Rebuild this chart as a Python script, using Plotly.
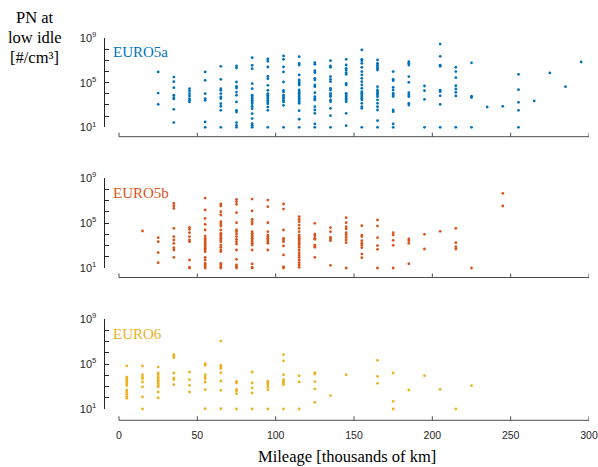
import plotly.graph_objects as go

# Particle number at low idle, grouped by mileage bin (thousands of km).
# Values are log10(PN [#/cm3]) for each vehicle in the bin.
euro5a_log_pn = {
    25: [5.96, 4.07, 3.06],
    35: [5.5, 5.09, 4.55, 3.87, 3.66, 3.54, 2.61, 1.42],
    45: [4.46, 4.25, 4.01, 3.81, 3.57, 3.42, 3.27],
    55: [5.96, 5.21, 4.01, 3.57, 3.42, 1.48, 1.0],
    65: [6.46, 5.3, 4.46, 4.31, 4.01, 3.72, 3.57, 3.12, 2.88, 2.52, 1.0],
    75: [6.49, 6.31, 5.06, 4.67, 4.52, 4.16, 3.87, 3.27, 2.52, 2.37, 1.42, 1.18, 1.0],
    85: [7.24, 6.55, 6.25, 4.91, 4.46, 3.87, 3.72, 3.57, 3.42, 3.27, 3.12, 2.88, 2.67,
         2.22, 1.78, 1.33, 1.18, 1.0],
    95: [7.12, 6.91, 6.4, 5.57, 5.36, 4.76, 4.31, 4.01, 3.87, 3.72, 3.57, 3.42, 3.27,
         3.12, 2.82, 2.52, 1.0],
    105: [7.39, 7.09, 6.4, 5.96, 5.06, 4.31, 4.16, 3.87, 3.72, 3.57, 3.42, 3.27, 2.97, 1.0],
    115: [7.33, 6.73, 6.58, 5.69, 5.24, 5.09, 4.94, 4.79, 4.34, 4.19, 4.04, 3.9, 3.75,
          3.6, 3.45, 3.3, 3.15, 2.49, 1.72, 1.0],
    125: [6.79, 6.64, 6.07, 5.9, 5.39, 5.24, 4.79, 4.64, 4.1, 3.75, 3.6, 3.45, 2.85,
          2.55, 2.25, 1.3, 1.0],
    135: [6.97, 6.49, 6.37, 5.54, 5.3, 5.09, 4.49, 4.34, 4.04, 3.9, 3.75, 3.45, 3.3,
          2.7, 2.04, 1.0],
    145: [7.09, 6.58, 6.28, 6.13, 5.9, 5.75, 4.94, 4.79, 4.04, 3.9, 3.75, 3.6, 3.45,
          3.3, 2.25, 1.15],
    155: [7.93, 7.09, 6.97, 6.73, 6.37, 5.99, 5.69, 5.39, 5.09, 4.79, 4.49, 4.19, 4.04,
          3.9, 3.75, 3.6, 3.45, 3.15, 2.85, 2.7, 1.0],
    165: [7.03, 6.73, 6.58, 6.43, 6.28, 6.13, 4.64, 4.34, 4.19, 4.04, 3.9, 3.75, 3.45,
          3.15, 2.85, 2.55, 1.6, 1.0],
    175: [5.99, 5.3, 5.18, 4.58, 4.34, 4.04, 3.9, 3.75, 2.55, 2.4, 1.3, 1.0],
    185: [6.88, 6.73, 6.58, 5.54, 5.03, 4.1, 3.9, 3.75, 3.15, 3.0],
    195: [4.7, 4.28, 3.51, 1.0],
    205: [8.46, 7.36, 6.56, 6.47, 4.32, 4.19, 3.82, 3.05, 1.0],
    215: [6.37, 5.99, 5.45, 4.73, 4.43, 4.13, 3.81, 1.0],
    225: [6.78, 3.78, 3.66, 1.0],
    235: [2.82],
    245: [2.88],
    255: [5.75, 4.37, 3.24, 2.52, 1.0],
    265: [3.36],
    275: [5.87],
    285: [4.64],
    295: [6.85],
}

euro5b_log_pn = {
    15: [4.29],
    25: [3.7, 3.34, 2.36, 1.47],
    35: [6.75, 6.51, 6.3, 4.53, 3.79, 3.49, 3.19, 2.81, 2.6, 1.95],
    45: [4.61, 4.44, 4.14, 3.79, 3.49, 3.34, 1.71, 1.06, 1.0],
    55: [7.22, 6.16, 5.41, 4.88, 4.38, 3.84, 3.64, 3.49, 3.34, 3.19, 3.04, 2.9, 2.75,
         2.6, 2.45, 1.95, 1.71, 1.41, 1.27, 1.12, 1.0],
    65: [6.69, 6.51, 6.01, 5.71, 5.12, 4.91, 4.73, 4.38, 4.08, 3.93, 3.79, 3.64, 3.49,
         3.34, 3.04, 2.84, 2.6, 2.45, 1.41, 1.27, 1.12, 1.0],
    75: [7.1, 6.9, 6.66, 5.92, 5.03, 4.38, 4.23, 4.02, 3.79, 3.55, 3.34, 3.13, 2.6,
         1.77, 1.27, 1.12, 1.0],
    85: [7.13, 6.07, 5.33, 5.12, 4.91, 4.23, 4.08, 3.93, 3.79, 3.64, 3.49, 3.34, 3.19,
         3.04, 2.6, 1.36, 1.06, 1.0],
    95: [7.04, 6.45, 5.03, 4.23, 3.93, 3.79, 3.64, 3.49, 3.34, 3.19, 2.6],
    105: [6.69, 6.24, 4.38, 3.64, 3.49, 3.34, 2.96, 2.16, 1.12, 1.0],
    115: [5.56, 5.33, 5.12, 4.82, 4.53, 4.23, 3.93, 3.79, 3.64, 3.49, 3.34, 3.19, 3.04,
          2.84, 2.6, 2.36, 2.16, 1.95, 1.71, 1.47, 1.27, 1.06],
    125: [4.97, 4.02, 3.87, 3.64, 3.55, 3.04, 2.99, 2.84, 1.95],
    135: [4.59, 4.23, 3.73, 3.58, 3.43, 1.24],
    145: [5.47, 5.03, 4.67, 4.47, 4.14, 3.96, 3.73, 3.49, 3.25, 1.0],
    155: [4.76, 3.93, 3.79, 3.43, 3.19, 3.04, 2.81, 2.24, 1.92],
    165: [5.27, 4.73, 3.7, 2.99, 2.66, 1.0],
    175: [4.14, 3.93, 3.46, 3.02, 1.0],
    185: [3.58, 3.43, 3.19, 1.38],
    195: [3.99, 2.69],
    205: [4.26],
    215: [4.53, 3.25, 2.9, 2.69],
    225: [1.0],
    245: [7.64, 6.51],
}

euro6_log_pn = {
    5: [4.84, 3.84, 3.69, 3.55, 3.4, 3.25, 3.08, 2.69, 2.49, 2.3, 2.1, 1.96],
    15: [4.82, 4.05, 3.84, 3.7, 3.4, 2.96, 2.07, 1.0],
    25: [4.73, 4.2, 4.05, 3.84, 3.7, 3.55, 3.4, 3.25, 3.1, 2.96, 2.51, 1.98],
    35: [5.83, 5.71, 5.56, 4.2, 3.76, 3.61, 3.16],
    45: [4.29, 3.61, 3.1, 2.51],
    55: [5.03, 4.88, 4.05, 3.84, 3.7, 3.4, 2.72, 1.03],
    65: [7.04, 4.88, 4.73, 4.59, 4.23, 3.49, 2.66, 1.03],
    75: [3.46, 3.31, 2.75, 2.6, 2.36, 1.0],
    85: [4.29, 3.31, 2.87, 2.42, 1.0],
    95: [3.46, 3.31, 3.16, 2.96, 2.72, 1.0],
    105: [5.83, 5.27, 4.05, 3.61, 3.46, 3.31, 3.16, 1.0],
    115: [3.95, 3.4, 1.0],
    125: [4.23, 4.11, 3.43, 2.78, 1.59],
    135: [2.19],
    145: [4.05],
    165: [5.33, 3.9, 3.28],
    175: [4.2, 1.68, 1.0],
    185: [2.69],
    195: [3.96],
    205: [2.75],
    215: [1.0],
    225: [3.07],
}

series_names = ["EURO5a", "EURO5b", "EURO6"]
series_data = [euro5a_log_pn, euro5b_log_pn, euro6_log_pn]
series_colors = ["#0072BD", "#D95319", "#EDB120"]

x_ticks = [0, 50, 100, 150, 200, 250, 300]
x_min, x_max = 0, 300
y_exponents = list(range(1, 10))
y_labeled = {1: "10<sup>1</sup>", 5: "10<sup>5</sup>", 9: "10<sup>9</sup>"}

W, H = 598, 467
AXIS_COLOR = "#262626"
XLINE_COLOR = "#4d4d4d"
SERIF = "Liberation Serif, Times New Roman, serif"
SANS = "Liberation Sans, Arial, sans-serif"

# panel geometry in pixels: (top = 1e9, bottom = 1e1, detached x-axis line)
panels_px = [(38.0, 127.3, 136.7), (178.0, 268.0, 277.5), (319.0, 409.0, 420.3)]
x0_px, x300_px = 119.0, 589.0   # where mileage 0 and 300 fall
y_axis_px = 104.5               # vertical axis sits a little left of mileage 0
px_per_unit = (x300_px - x0_px) / (x_max - x_min)
x_lo = x_min - (x0_px - y_axis_px) / px_per_unit
TICK_PX = 4


def py(v):
    return 1 - v / H


fig = go.Figure()
layout = dict(
    width=W, height=H,
    margin=dict(l=0, r=0, t=0, b=0, autoexpand=False),
    paper_bgcolor="white", plot_bgcolor="white",
    showlegend=False,
    font=dict(family=SANS, color=AXIS_COLOR, size=11),
)

annotations = []
shapes = []
for i, (name, data, color) in enumerate(zip(series_names, series_data, series_colors)):
    xs, ys = [], []
    for km, vals in data.items():
        for v in vals:
            xs.append(km)
            ys.append(10 ** v)
    n = "" if i == 0 else str(i + 1)
    fig.add_trace(go.Scatter(
        x=xs, y=ys, mode="markers", xaxis="x" + n, yaxis="y" + n,
        marker=dict(size=2.8, color=color, line=dict(width=0)),
        cliponaxis=False, name=name,
    ))
    top, bot, xline = panels_px[i]
    last = i == 2
    layout["xaxis" + n] = dict(
        domain=[y_axis_px / W, x300_px / W],
        range=[x_lo, x_max], anchor="y" + n,
        showline=False, ticks="", tickvals=x_ticks,
        showticklabels=last, ticklabeloverflow="allow",
        ticklabelstandoff=18,
        tickfont=dict(family=SANS, size=10.5, color=AXIS_COLOR),
        showgrid=False, zeroline=False, fixedrange=True,
    )
    layout["yaxis" + n] = dict(
        domain=[py(bot), py(top)],
        type="log", range=[1, 9], anchor="x" + n,
        showline=True, linecolor=AXIS_COLOR, linewidth=1,
        ticks="inside", ticklen=TICK_PX, tickcolor=AXIS_COLOR, tickwidth=1,
        tickvals=[10 ** e for e in y_exponents],
        ticktext=[y_labeled.get(e, "") for e in y_exponents],
        tickfont=dict(family=SANS, size=11, color=AXIS_COLOR),
        ticklabelstandoff=5,
        showgrid=False, zeroline=False, fixedrange=True,
    )
    # detached mileage axis line with upward ticks
    shapes.append(dict(
        type="line", xref="x" + n, yref="paper",
        x0=x_min, x1=x_max, y0=py(xline), y1=py(xline),
        line=dict(color=XLINE_COLOR, width=1),
    ))
    for t in x_ticks:
        shapes.append(dict(
            type="line", xref="x" + n, yref="paper",
            x0=t, x1=t, y0=py(xline), y1=py(xline - TICK_PX),
            line=dict(color=XLINE_COLOR, width=1),
        ))
    annotations.append(dict(
        text=name, x=111 / W, y=py(top + 14.5), xref="paper", yref="paper",
        xanchor="left", yanchor="middle", showarrow=False,
        font=dict(family=SERIF, size=15, color=color),
    ))

# vertical-axis caption, one annotation per line
for text, yc in zip(["PN at", "low idle", "[#/cm³]"], [17, 37, 57]):
    annotations.append(dict(
        text=text, x=34.5 / W, y=py(yc), xref="paper", yref="paper",
        xanchor="center", yanchor="middle", showarrow=False,
        font=dict(family=SERIF, size=16.5, color="black"),
    ))
annotations.append(dict(
    text="Mileage [thousands of km]", x=347 / W, y=py(456), xref="paper", yref="paper",
    xanchor="center", yanchor="middle", showarrow=False,
    font=dict(family=SERIF, size=16.5, color="black"),
))
layout["annotations"] = annotations
layout["shapes"] = shapes

fig.update_layout(**layout)
fig.write_html("out.html")
